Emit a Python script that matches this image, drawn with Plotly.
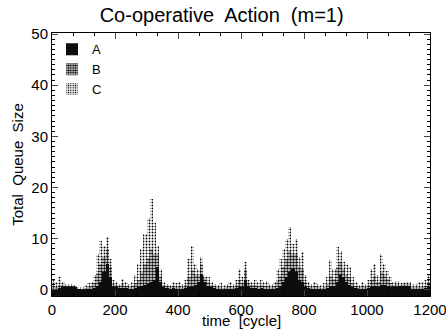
import plotly.graph_objects as go

# time bins (10 cycles each), centres
time_bins = [10 * i + 5 for i in range(120)]

queue_A = [0.2, 0.2, 0.3, 0.5, 0.6, 0.7, 0.7, 0.6, 0.2, 0.1,
           0.1, 0.2, 0.2, 0.3, 0.8, 1.5, 3.5, 5.0, 2.5, 0.6,
           0.5, 0.3, 0.4, 0.3, 0.2, 0.2, 0.3, 0.5, 0.8, 1.0,
           1.2, 1.5, 2.0, 4.5, 1.5, 0.5, 0.3, 0.2, 0.3, 0.2,
           0.2, 0.2, 0.3, 0.5, 0.8, 1.0, 1.5, 3.0, 1.5, 0.8,
           0.5, 0.3, 0.2, 0.2, 0.1, 0.2, 0.2, 0.2, 0.3, 0.5,
           0.5, 2.0, 0.8, 0.4, 0.3, 0.2, 0.3, 0.2, 0.2, 0.1,
           0.2, 0.4, 0.8, 1.5, 2.5, 3.5, 4.0, 3.5, 2.0, 1.5,
           0.6, 0.3, 0.2, 0.2, 0.2, 0.1, 0.2, 0.3, 0.8, 0.8,
           1.5, 3.0, 2.5, 1.5, 1.0, 0.5, 0.3, 0.2, 0.2, 0.2,
           0.3, 0.5, 0.8, 0.6, 1.0, 1.0, 0.8, 0.6, 0.5, 0.6,
           0.8, 0.9, 0.9, 0.8, 0.3, 0.2, 0.2, 0.2, 0.3, 0.5]

queue_B = [0.5, 0.4, 0.7, 0.4, 0.3, 0.1, 0.1, 0.1, 0.1, 0.2,
           0.3, 0.4, 0.5, 1.0, 2.5, 3.5, 3.0, 3.0, 2.0, 0.6,
           0.4, 0.4, 0.8, 0.5, 0.4, 0.5, 1.0, 1.5, 2.7, 4.0,
           5.0, 6.5, 5.0, 2.5, 1.2, 0.5, 0.4, 0.3, 0.5, 0.4,
           0.5, 0.4, 0.7, 2.0, 3.0, 2.0, 1.5, 2.0, 0.8, 0.7,
           0.4, 0.4, 0.3, 0.4, 0.3, 0.4, 0.5, 0.4, 0.7, 1.5,
           0.8, 1.8, 0.6, 0.5, 0.7, 0.5, 0.7, 0.5, 0.6, 0.4,
           0.5, 1.3, 2.0, 3.0, 3.5, 4.0, 3.0, 3.5, 2.5, 2.5,
           1.0, 0.5, 0.4, 0.5, 0.4, 0.3, 0.4, 0.8, 2.0, 1.4,
           3.0, 2.5, 1.5, 1.5, 1.5, 0.8, 0.5, 0.3, 0.5, 0.4,
           0.7, 1.5, 2.0, 1.0, 2.5, 2.0, 1.4, 0.8, 0.4, 0.5,
           0.2, 0.3, 0.3, 0.3, 0.3, 0.3, 0.4, 0.4, 0.5, 1.0]

queue_C = [1.3, 0.9, 1.5, 0.6, 0.3, 0.2, 0.2, 0.1, 0.2, 0.3,
           0.6, 0.7, 0.8, 1.7, 3.7, 4.5, 2.0, 2.3, 1.5, 0.8,
           0.6, 0.5, 1.0, 0.7, 0.6, 0.8, 1.7, 3.0, 4.5, 6.0,
           7.8, 9.7, 6.0, 1.5, 1.3, 0.5, 0.5, 0.5, 0.7, 0.7,
           0.8, 0.6, 1.0, 3.5, 4.8, 2.0, 1.0, 1.4, 0.7, 1.0,
           0.6, 0.5, 0.5, 0.7, 0.6, 0.6, 0.8, 0.6, 1.0, 2.0,
           1.2, 1.6, 0.6, 0.6, 1.0, 0.8, 1.0, 0.8, 1.0, 0.7,
           0.8, 2.3, 3.2, 3.5, 4.0, 4.8, 2.0, 2.9, 2.0, 3.4,
           1.4, 0.7, 0.6, 0.8, 0.6, 0.6, 0.7, 1.4, 3.0, 1.8,
           3.9, 2.0, 1.5, 1.9, 2.0, 1.2, 0.7, 0.5, 0.8, 0.6,
           1.0, 2.0, 2.2, 1.4, 3.5, 2.0, 1.5, 1.1, 0.6, 0.7,
           0.2, 0.3, 0.3, 0.4, 0.6, 0.7, 0.9, 0.9, 1.2, 1.5]

series_names = ["A", "B", "C"]
x_ticks = [0, 200, 400, 600, 800, 1000, 1200]
y_ticks = [0, 10, 20, 30, 40, 50]

Y_FLOOR = -1.2
FONT = "Liberation Sans, Arial, sans-serif"

styles = {
    "A": dict(color="#0d0d0d", solidity=1.0),
    "B": dict(color="#5a5a5a", solidity=0.55),
    "C": dict(color="#b4b4b4", solidity=0.3),
}

fig = go.Figure()
series = [queue_A, queue_B, queue_C]
# stack: the first series is drawn from the axis floor so that the stack
# top sits at the plotted total value
levels = [[0.0] * len(time_bins)]
for vals in series:
    levels.append([l + v for l, v in zip(levels[-1], vals)])
for k, name in enumerate(series_names):
    lo = [Y_FLOOR] * len(time_bins) if k == 0 else levels[k]
    hi = levels[k + 1]
    st = styles[name]
    marker = dict(color=st["color"], line=dict(width=0))
    if st["solidity"] < 1:
        marker = dict(color="white", line=dict(width=0),
                      pattern=dict(shape=".", fgcolor="black", bgcolor="white",
                                   size=3, solidity=st["solidity"], fillmode="replace"))
    fig.add_trace(go.Bar(
        x=time_bins, y=[h - l for h, l in zip(hi, lo)], base=lo, name=name,
        width=10, marker=marker,
    ))

fig.update_layout(
    width=446, height=332,
    margin=dict(l=52, r=16, t=33, b=36, autoexpand=False),
    paper_bgcolor="white", plot_bgcolor="white",
    barmode="overlay", bargap=0,
    font=dict(family=FONT, size=15, color="black"),
    title=dict(text="Co-operative  Action  (m=1)", x=0.497, xanchor="center",
               y=0.955, yanchor="middle", font=dict(size=20, family=FONT)),
    showlegend=True,
    legend=dict(x=0.0, y=0.995, xanchor="left", yanchor="top",
                bgcolor="rgba(0,0,0,0)", font=dict(size=13), traceorder="normal",
                itemwidth=30, tracegroupgap=2),
    xaxis=dict(range=[0, 1200], tickvals=x_ticks, ticks="inside", ticklen=6,
               ticklabeloverflow="allow", automargin=False,
               showline=True, linecolor="black", linewidth=1, mirror="allticks",
               showgrid=False, zeroline=False,
               minor=dict(dtick=200 / 3, ticks="inside", ticklen=3, tickcolor="black")),
    yaxis=dict(range=[Y_FLOOR, 50.2], tickvals=y_ticks, ticks="inside", ticklen=6,
               automargin=False,
               showline=True, linecolor="black", linewidth=1, mirror="allticks",
               showgrid=False, zeroline=False,
               minor=dict(dtick=1, ticks="inside", ticklen=3, tickcolor="black"),
               title=dict(text="Total  Queue  Size", standoff=4, font=dict(size=15))),
    annotations=[dict(text="time  [cycle]", xref="paper", yref="paper",
                      x=0.5, y=-0.058, xanchor="center", yanchor="top",
                      showarrow=False, borderpad=0, font=dict(size=15))],
)

fig.write_html("out.html")
